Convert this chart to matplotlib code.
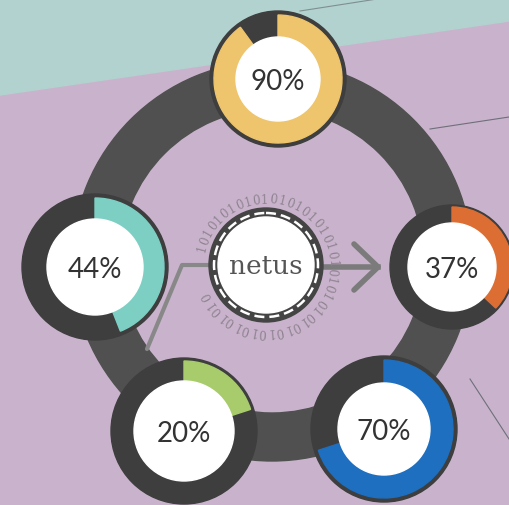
import numpy as np
import matplotlib.pyplot as plt
from matplotlib.patches import Wedge, Circle, Polygon

# donut values (percent) in the order top, right, bottom-right, bottom-left, left
labels = ["90%", "37%", "70%", "20%", "44%"]
values = [90, 37, 70, 20, 44]
colors = ["#EEC46C", "#DD6E33", "#1E6FBF", "#A8CC6C", "#7DCFC4"]

# node layout (pixel coordinates, y downwards)
node_x = [278, 452, 384, 184, 95]
node_y = [80, 268, 430, 432, 268]
node_r = [68, 62, 73, 73, 73]
ring_out = [64, 60, 69, 70, 69]
ring_in = [42, 44, 46, 50, 48]

center_label = "netus"
binary = "10101010101010101010101010101010101010101010"

fig = plt.figure(figsize=(5.09, 5.06), dpi=100)
ax = fig.add_axes([0, 0, 1, 1])
ax.set_xlim(0, 509)
ax.set_ylim(506, 0)
ax.set_aspect("equal")
ax.axis("off")

# background
ax.add_patch(Polygon([[0, 0], [509, 0], [509, 506], [0, 506]], color="#C9B3CC", zorder=0))
ax.add_patch(Polygon([[0, 0], [509, 0], [509, 22], [0, 96]], color="#B2D2CF", zorder=0))
ax.plot([300, 390], [12, -2], color="#7f8f8f", lw=0.8, zorder=1)
ax.plot([430, 509], [130, 118], color="#6f6f7a", lw=0.8, zorder=1)
ax.plot([470, 509], [380, 440], color="#6f6f7a", lw=0.8, zorder=1)

# big dark ring
ax.add_patch(Wedge((272, 262), 200, 0, 360, width=48, color="#505050", zorder=2))

# connector line and arrow
ax.plot([147, 182, 218], [350, 266, 266], color="#888888", lw=3, zorder=3, solid_capstyle="round")
ax.plot([318, 378], [268, 268], color="#7B7B7B", lw=4, zorder=3)
ax.plot([354, 378, 354], [245, 268, 291], color="#7B7B7B", lw=4, zorder=3, solid_capstyle="round")

# donut nodes
for lab, v, c, x, y, R, ro, ri in zip(labels, values, colors, node_x, node_y, node_r, ring_out, ring_in):
    ax.add_patch(Circle((x, y), R, color="#3E3E3E", zorder=4))
    # clockwise from 12 o'clock (y axis inverted -> angles run clockwise on screen)
    ax.add_patch(Wedge((x, y), ro, -90, -90 + 360 * v / 100, width=ro - ri + 2, color=c, zorder=5))
    ax.add_patch(Circle((x, y), ri, color="white", zorder=6))
    ax.text(x, y + 2, lab, ha="center", va="center", fontsize=20, family="Lato",
            color="#333333", zorder=7)

# center circle
cx, cy = 266, 266
ax.add_patch(Circle((cx, cy), 57, color="#444444", zorder=4))
ax.add_patch(Circle((cx, cy), 52, fill=False, ec="white", lw=1.8, ls=(0, (4, 2)), zorder=5))
ax.add_patch(Circle((cx, cy), 48, color="white", zorder=5))
ax.text(cx, cy, center_label, ha="center", va="center", fontsize=19, family="DejaVu Serif",
        color="#555555", zorder=7)

# binary digits around the center
n = len(binary)
for i, ch in enumerate(binary):
    a = np.deg2rad(165 - i * 325 / n)
    px = cx + 66 * np.cos(a)
    py = cy - 66 * np.sin(a)
    ax.text(px, py, ch, ha="center", va="center", fontsize=8.5, family="DejaVu Serif",
            color="#8E8290", rotation=np.rad2deg(a) - 90, zorder=3)

fig.savefig("out.png", dpi=100)
